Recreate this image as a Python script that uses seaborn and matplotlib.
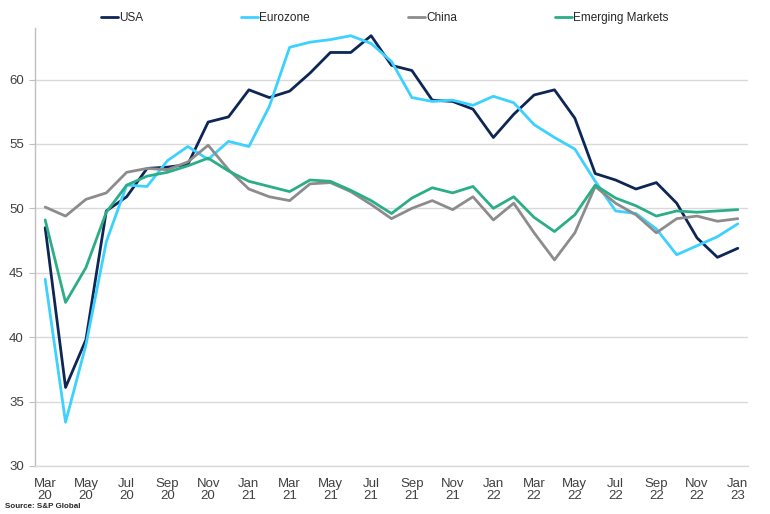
import matplotlib
matplotlib.use("Agg")
import matplotlib.pyplot as plt
import seaborn as sns
import pandas as pd
import numpy as np
from matplotlib.lines import Line2D

months = ["Mar 20", "Apr 20", "May 20", "Jun 20", "Jul 20", "Aug 20", "Sep 20", "Oct 20", "Nov 20", "Dec 20",
          "Jan 21", "Feb 21", "Mar 21", "Apr 21", "May 21", "Jun 21", "Jul 21", "Aug 21", "Sep 21", "Oct 21",
          "Nov 21", "Dec 21", "Jan 22", "Feb 22", "Mar 22", "Apr 22", "May 22", "Jun 22", "Jul 22", "Aug 22",
          "Sep 22", "Oct 22", "Nov 22", "Dec 22", "Jan 23"]

usa = [48.5, 36.1, 39.8, 49.8, 50.9, 53.1, 53.2, 53.4, 56.7, 57.1,
       59.2, 58.6, 59.1, 60.5, 62.1, 62.1, 63.4, 61.1, 60.7, 58.4,
       58.3, 57.7, 55.5, 57.3, 58.8, 59.2, 57.0, 52.7, 52.2, 51.5,
       52.0, 50.4, 47.7, 46.2, 46.9]
eurozone = [44.5, 33.4, 39.4, 47.4, 51.8, 51.7, 53.7, 54.8, 53.8, 55.2,
            54.8, 57.9, 62.5, 62.9, 63.1, 63.4, 62.8, 61.4, 58.6, 58.3,
            58.4, 58.0, 58.7, 58.2, 56.5, 55.5, 54.6, 52.1, 49.8, 49.6,
            48.4, 46.4, 47.1, 47.8, 48.8]
china = [50.1, 49.4, 50.7, 51.2, 52.8, 53.1, 53.0, 53.6, 54.9, 53.0,
         51.5, 50.9, 50.6, 51.9, 52.0, 51.3, 50.3, 49.2, 50.0, 50.6,
         49.9, 50.9, 49.1, 50.4, 48.1, 46.0, 48.1, 51.7, 50.4, 49.5,
         48.1, 49.2, 49.4, 49.0, 49.2]
emerging = [49.1, 42.7, 45.4, 49.7, 51.8, 52.5, 52.8, 53.3, 53.9, 52.9,
            52.1, 51.7, 51.3, 52.2, 52.1, 51.4, 50.6, 49.6, 50.8, 51.6,
            51.2, 51.7, 50.0, 50.9, 49.3, 48.2, 49.5, 51.8, 50.8, 50.2,
            49.4, 49.8, 49.7, 49.8, 49.9]

series_names = ["USA", "Eurozone", "China", "Emerging Markets"]
colors = ["#0E2656", "#3DD1FF", "#8C8C8C", "#2BAE87"]

df = pd.DataFrame({
    "idx": list(range(len(months))) * 4,
    "value": usa + eurozone + china + emerging,
    "series": sum([[n] * len(months) for n in series_names], []),
})

sns.set_style("white")
plt.rcParams["font.family"] = ["Liberation Sans", "DejaVu Sans"]

fig = plt.figure(figsize=(7.7, 5.14), dpi=100)
ax = fig.add_axes([35 / 770, 48 / 514, 713 / 770, 438 / 514])

sns.lineplot(data=df, x="idx", y="value", hue="series", hue_order=series_names,
             palette=colors, linewidth=2.0, ax=ax, legend=False, sort=False)

ax.set_xlim(-0.5, len(months) - 0.5)
ax.set_ylim(30, 64)
ax.set_yticks(np.arange(30, 61, 5))
ax.set_yticklabels([str(v) for v in range(30, 61, 5)])
ticks = list(range(0, len(months), 2))
ax.set_xticks(ticks)
ax.set_xticklabels([months[i].replace(" ", "\n") for i in ticks], linespacing=1.0)
ax.set_xlabel("")
ax.set_ylabel("")

ax.grid(axis="y", color="#D9D9D9", linewidth=1.0)
ax.grid(axis="x", visible=False)
ax.set_axisbelow(True)
for s in ["top", "right"]:
    ax.spines[s].set_visible(False)
ax.spines["left"].set_color("#BFBFBF")
ax.spines["bottom"].set_color("#D9D9D9")
ax.spines["left"].set_linewidth(1.0)
ax.spines["bottom"].set_linewidth(1.0)
ax.tick_params(axis="y", which="both", left=True, length=4, color="#BFBFBF",
               labelsize=9.5, labelcolor="#404040", pad=4)
ax.tick_params(axis="x", which="both", bottom=False, labelsize=9.5,
               labelcolor="#404040", pad=5)

handles = [Line2D([0], [0], color=c, linewidth=2.0) for c in colors]
fig.legend(handles, series_names, loc="center left", bbox_to_anchor=(101 / 770, 1 - 18 / 514),
           ncol=4, frameon=False, fontsize=8.5, handlelength=1.4, handletextpad=0.1,
           columnspacing=8.35, borderpad=0, borderaxespad=0, labelcolor="#262626")

fig.text(5 / 770, 1 - 507 / 514, "Source: S&P Global", fontsize=5.8, fontweight="bold",
         color="#262626", ha="left", va="center")

fig.savefig("out.png", dpi=100, facecolor="white")
